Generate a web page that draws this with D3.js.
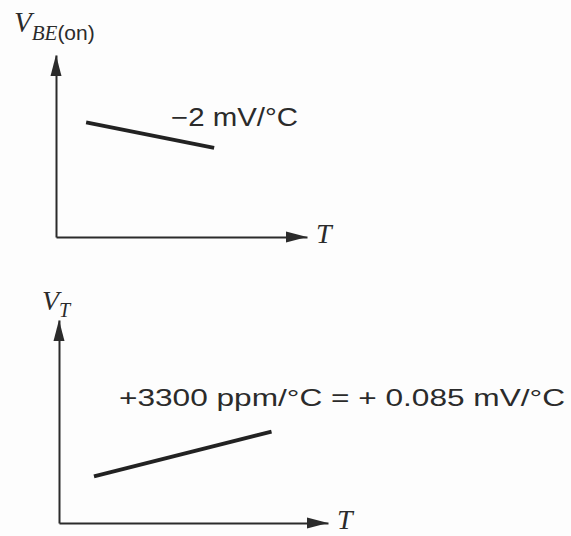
<!DOCTYPE html>
<html>
<head>
<meta charset="utf-8">
<script src="https://cdn.jsdelivr.net/npm/d3@7"></script>
<style>
  html, body { margin: 0; padding: 0; background: #fdfdfd; }
  svg { display: block; }
</style>
</head>
<body>
<svg id="chart" width="571" height="536"></svg>
<script>
// Qualitative temperature trends (arbitrary 0–100 units on both axes)
const vbeTemp = [12, 63];      // T at the two ends of the V_BE(on) segment
const vbeVolt = [63, 49];      // V_BE(on) falls with temperature
const vtTemp  = [13, 79];      // T at the two ends of the V_T segment
const vtVolt  = [23, 45];      // V_T rises with temperature

const vbeSlopeLabel = "\u22122 mV/\u00B0C";
const vtSlopeLabel  = "+3300 ppm/\u00B0C = + 0.085 mV/\u00B0C";
const xAxisLabel    = "T";

const ink = "#2b2b2b";
const svg = d3.select("#chart");

// One panel: an origin at (ox, oy), axes running to arrow tips at xTip / yTip
function panel(cfg) {
  const x = d3.scaleLinear().domain([0, 100]).range([cfg.ox, cfg.xTip]);
  const y = d3.scaleLinear().domain([0, 100]).range([cfg.oy, cfg.yTip]);
  const g = svg.append("g");

  // axes: bare domain lines, no ticks
  g.append("g").attr("transform", `translate(0,${cfg.oy})`)
    .call(d3.axisBottom(x).tickValues([]).tickSizeOuter(0));
  g.append("g").attr("transform", `translate(${cfg.ox},0)`)
    .call(d3.axisLeft(y).tickValues([]).tickSizeOuter(0));
  g.selectAll(".domain").attr("stroke", ink).attr("stroke-width", 2);

  // arrowheads at the end of each axis
  const L = 21, W = 5.5;
  g.append("path")
    .attr("d", `M${x(100)},${cfg.oy} L${x(100) - L},${cfg.oy - W} L${x(100) - L},${cfg.oy + W} Z`)
    .attr("fill", ink);
  g.append("path")
    .attr("d", `M${cfg.ox},${y(100)} L${cfg.ox - W},${y(100) + L} L${cfg.ox + W},${y(100) + L} Z`)
    .attr("fill", ink);

  // the trend segment
  const pts = cfg.tData.map((t, i) => [t, cfg.vData[i]]);
  g.append("path")
    .datum(pts)
    .attr("d", d3.line().x(d => x(d[0])).y(d => y(d[1])))
    .attr("fill", "none")
    .attr("stroke", "#222")
    .attr("stroke-width", 3.8)
    .attr("stroke-linecap", "butt");

  // slope annotation
  g.append("text")
    .attr("x", cfg.labelX).attr("y", cfg.labelY)
    .attr("font-family", "'Liberation Sans', Arial, sans-serif")
    .attr("font-size", cfg.labelSize)
    .attr("fill", ink)
    .attr("textLength", cfg.labelLen)
    .attr("lengthAdjust", "spacingAndGlyphs")
    .text(cfg.label);

  // x-axis title
  g.append("text")
    .attr("x", cfg.tX).attr("y", cfg.tY)
    .attr("font-family", "'Liberation Serif', 'Times New Roman', serif")
    .attr("font-style", "italic")
    .attr("font-size", 28)
    .attr("fill", ink)
    .text(xAxisLabel);

  return g;
}

panel({
  ox: 56, oy: 237, xTip: 307, yTip: 55,
  tData: vbeTemp, vData: vbeVolt,
  label: vbeSlopeLabel, labelX: 171, labelY: 126, labelSize: 25, labelLen: 127,
  tX: 316, tY: 243
});

panel({
  ox: 59, oy: 523, xTip: 328, yTip: 320,
  tData: vtTemp, vData: vtVolt,
  label: vtSlopeLabel, labelX: 119, labelY: 406, labelSize: 24.5, labelLen: 446,
  tX: 337, tY: 529
});

// y-axis titles
const serif = "'Liberation Serif', 'Times New Roman', serif";
const sans = "'Liberation Sans', Arial, sans-serif";

const vbe = svg.append("text").attr("x", 14).attr("y", 32).attr("fill", ink);
vbe.append("tspan").attr("font-family", serif).attr("font-style", "italic")
  .attr("font-size", 29).text("V");
vbe.append("tspan").attr("font-family", serif).attr("font-style", "italic")
  .attr("font-size", 21).attr("dy", 8).text("BE");
vbe.append("tspan").attr("font-family", sans).attr("font-size", 21).text("(on)");

const vt = svg.append("text").attr("x", 42).attr("y", 310).attr("fill", ink);
vt.append("tspan").attr("font-family", serif).attr("font-style", "italic")
  .attr("font-size", 28).text("V");
vt.append("tspan").attr("font-family", serif).attr("font-style", "italic")
  .attr("font-size", 20).attr("dy", 7).text("T");
</script>
</body>
</html>
